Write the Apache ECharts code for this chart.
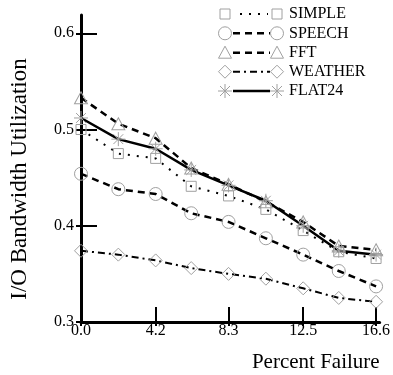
<!DOCTYPE html>
<html>
<head>
<meta charset="utf-8">
<script src="https://cdn.jsdelivr.net/npm/echarts@6/dist/echarts.min.js"></script>
<style>
  html, body { margin: 0; padding: 0; background: #ffffff; }
  #chart { width: 393px; height: 375px; }
</style>
</head>
<body>
<div id="chart"></div>
<script>
// Percent of failed disks (x) and I/O bandwidth utilisation per workload (y)
const failurePct = [0, 2.1, 4.2, 6.2, 8.3, 10.4, 12.5, 14.5, 16.6];
const xTicks = [0, 4.2, 8.3, 12.5, 16.6];
const yTicks = [0.3, 0.4, 0.5, 0.6];

const simple  = [0.500, 0.475, 0.470, 0.441, 0.431, 0.417, 0.395, 0.373, 0.366];
const speech  = [0.454, 0.438, 0.433, 0.413, 0.404, 0.387, 0.370, 0.353, 0.337];
const fft     = [0.533, 0.506, 0.491, 0.460, 0.443, 0.425, 0.404, 0.379, 0.375];
const weather = [0.374, 0.370, 0.364, 0.356, 0.350, 0.345, 0.335, 0.325, 0.321];
const flat24  = [0.512, 0.490, 0.480, 0.458, 0.442, 0.426, 0.400, 0.374, 0.370];

const seriesNames = ['SIMPLE', 'SPEECH', 'FFT', 'WEATHER', 'FLAT24'];
const seriesData = [simple, speech, fft, weather, flat24];

const FONT = "'Liberation Serif', 'Times New Roman', serif";
const MARK = '#a0a0a0';
const STAR = 'path://M0,-10L0,10M-10,0L10,0M-7,-7L7,7M-7,7L7,-7';

const styles = [
  { symbol: 'rect',     size: 10,       dash: [2, 7],        width: 2,   kind: 'rect' },
  { symbol: 'circle',   size: 13,       dash: [7, 5],        width: 2.5, kind: 'circle' },
  { symbol: 'triangle', size: [13, 12], dash: [7, 5],        width: 2.5, kind: 'triangle' },
  { symbol: 'diamond',  size: [13, 13], dash: [7, 4, 2, 4],  width: 2,   kind: 'diamond' },
  { symbol: STAR,       size: 14,       dash: 'solid',       width: 2.5, kind: 'star' }
];

const series = seriesNames.map((name, i) => ({
  name: name,
  type: 'line',
  data: failurePct.map((x, k) => [x, seriesData[i][k]]),
  symbol: styles[i].symbol,
  symbolSize: styles[i].size,
  showAllSymbol: true,
  itemStyle: { color: 'rgba(0,0,0,0)', borderColor: MARK, borderWidth: 1 },
  lineStyle: { color: '#000', width: styles[i].width, type: styles[i].dash },
  emphasis: { disabled: true },
  animation: false,
  z: 3
}));

// Hand-built legend: marker, line sample, marker, label
function markerShape(kind, cx, cy) {
  const st = { fill: 'none', stroke: MARK, lineWidth: 1 };
  switch (kind) {
    case 'rect': return { type: 'rect', shape: { x: cx - 5, y: cy - 5, width: 10, height: 10 }, style: st };
    case 'circle': return { type: 'circle', shape: { cx: cx, cy: cy, r: 6.5 }, style: st };
    case 'triangle': return { type: 'polygon', shape: { points: [[cx, cy - 6.5], [cx + 6.5, cy + 5.5], [cx - 6.5, cy + 5.5]] }, style: st };
    case 'diamond': return { type: 'polygon', shape: { points: [[cx, cy - 6.5], [cx + 6.5, cy], [cx, cy + 6.5], [cx - 6.5, cy]] }, style: st };
    default: return {
      type: 'group',
      children: [
        { type: 'line', shape: { x1: cx, y1: cy - 7, x2: cx, y2: cy + 7 }, style: st },
        { type: 'line', shape: { x1: cx - 7, y1: cy, x2: cx + 7, y2: cy }, style: st },
        { type: 'line', shape: { x1: cx - 5, y1: cy - 5, x2: cx + 5, y2: cy + 5 }, style: st },
        { type: 'line', shape: { x1: cx - 5, y1: cy + 5, x2: cx + 5, y2: cy - 5 }, style: st }
      ]
    };
  }
}

const legendRows = [14, 33.3, 52.7, 71.7, 91];
const legendGraphics = [];
seriesNames.forEach((name, i) => {
  const y = legendRows[i];
  legendGraphics.push(markerShape(styles[i].kind, 225, y));
  legendGraphics.push(markerShape(styles[i].kind, 277, y));
  legendGraphics.push({
    type: 'line',
    shape: { x1: i === 0 ? 240 : 233, y1: y, x2: i === 0 ? 268 : 270, y2: y },
    style: { stroke: '#000', lineWidth: styles[i].width, lineDash: styles[i].dash === 'solid' ? null : styles[i].dash }
  });
  legendGraphics.push({
    type: 'text', x: 289, y: y,
    style: { text: name, fill: '#000', font: '16px ' + FONT, verticalAlign: 'middle', align: 'left' }
  });
});

const chart = echarts.init(document.getElementById('chart'), null, { renderer: 'canvas' });
chart.setOption({
  animation: false,
  backgroundColor: '#ffffff',
  grid: { left: 74, right: 11.5, top: 15, bottom: 53, containLabel: false },
  xAxis: [{
    type: 'value', min: 0, max: 16.8,
    axisLine: { lineStyle: { color: '#000', width: 3 } },
    axisTick: { inside: true, length: 15, lineStyle: { color: '#000', width: 2 }, customValues: xTicks },
    axisLabel: { customValues: xTicks, color: '#000', fontFamily: FONT, fontSize: 16, margin: 1,
      formatter: v => v.toFixed(1) },
    splitLine: { show: false },
    name: 'Percent Failure', nameLocation: 'end', nameGap: 0,
    nameTextStyle: { color: '#000', fontFamily: FONT, fontSize: 21, align: 'right', verticalAlign: 'top', padding: [30, 0, 0, 0] }
  }, {
    type: 'value', min: 0, max: 16.8, position: 'bottom',
    axisLine: { show: false },
    axisTick: { inside: false, length: 4, lineStyle: { color: '#000', width: 2 }, customValues: xTicks },
    axisLabel: { show: false }, splitLine: { show: false }
  }],
  yAxis: [{
    type: 'value', min: 0.3, max: 0.619,
    axisLine: { lineStyle: { color: '#000', width: 3 } },
    axisTick: { inside: true, length: 16, lineStyle: { color: '#000', width: 2 }, customValues: yTicks },
    axisLabel: { customValues: yTicks, color: '#000', fontFamily: FONT, fontSize: 16, margin: 7,
      formatter: v => v.toFixed(1) },
    splitLine: { show: false },
    name: 'I/O Bandwidth Utilization', nameLocation: 'middle', nameGap: 50,
    nameTextStyle: { color: '#000', fontFamily: FONT, fontSize: 23, padding: [0, 21, 0, 0] }
  }, {
    type: 'value', min: 0.3, max: 0.619, position: 'left',
    axisLine: { show: false },
    axisTick: { inside: false, length: 5, lineStyle: { color: '#000', width: 2 }, customValues: yTicks },
    axisLabel: { show: false }, splitLine: { show: false }
  }],
  series: series,
  graphic: legendGraphics
});
</script>
</body>
</html>
